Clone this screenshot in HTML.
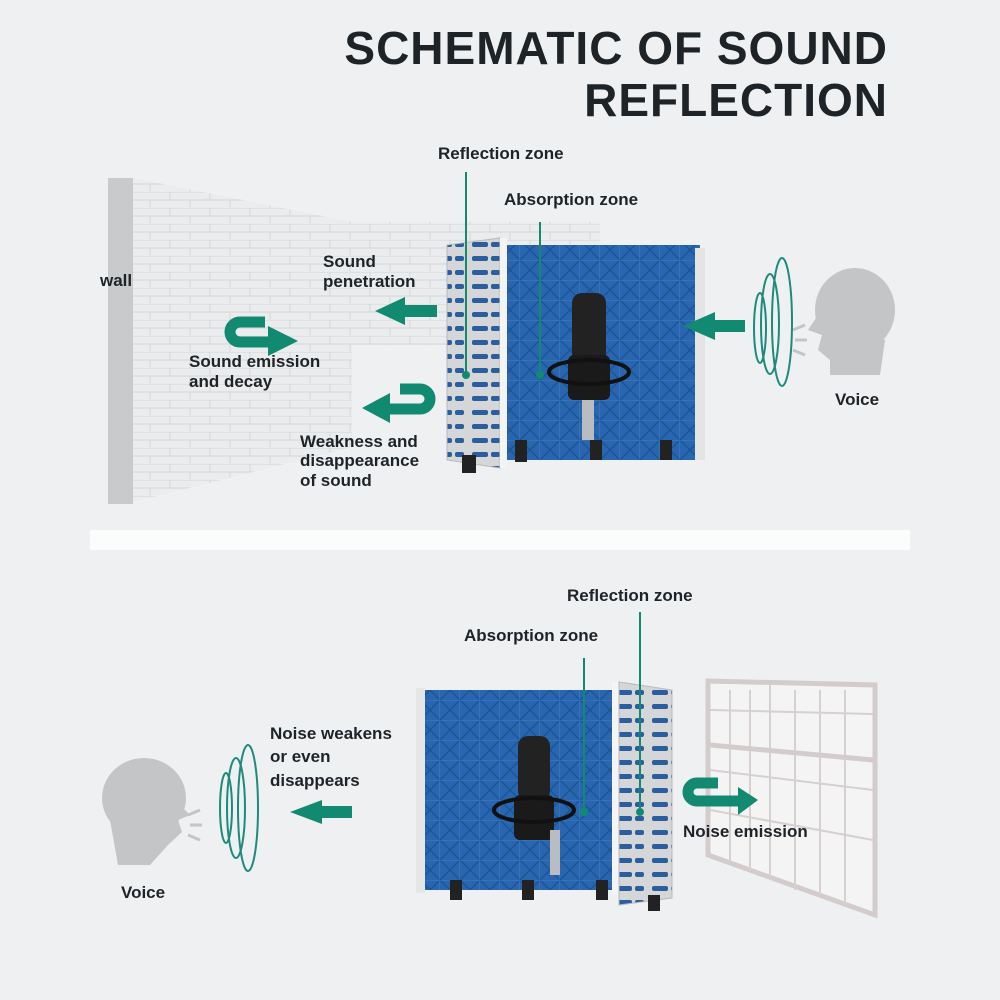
<!DOCTYPE html>
<html><head><meta charset="utf-8"><style>
html,body{margin:0;padding:0;background:#eef0f2}
svg{display:block}
text{font-family:"Liberation Sans",sans-serif;font-weight:bold;fill:#1e2328}
</style></head><body>
<svg width="1000" height="1000" viewBox="0 0 1000 1000" xmlns="http://www.w3.org/2000/svg">
<defs>
<pattern id="foam" width="20" height="20" patternUnits="userSpaceOnUse">
<rect width="20" height="20" fill="#2a66b0"/>
<path d="M0 0L10 10L20 0M0 20L10 10L20 20" stroke="#1b5599" stroke-width="1.5" fill="none"/>
<path d="M0 0H20V20" stroke="#3d7fc8" stroke-width="1" fill="none"/>
</pattern>
<pattern id="slots" width="36" height="14" patternUnits="userSpaceOnUse">
<rect width="36" height="14" fill="#d4d6d8"/>
<rect x="4" y="4" width="16" height="5" rx="2" fill="#2a5e9e"/>
<rect x="23" y="4" width="9" height="5" rx="2" fill="#2a5e9e"/>
</pattern>
<pattern id="brick" width="40" height="16" patternUnits="userSpaceOnUse">
<rect width="40" height="16" fill="#ebeced"/>
<path d="M0 0H40M0 8H40M10 0V8M30 8V16" stroke="#d8dadc" stroke-width="1.2"/>
</pattern>
</defs>
<rect width="1000" height="1000" fill="#eef0f2"/>
<rect x="90" y="530" width="820" height="20" fill="#fbfcfc"/>

<text x="888" y="64" font-size="46" text-anchor="end" letter-spacing="1">SCHEMATIC OF SOUND</text>
<text x="888" y="116" font-size="46" text-anchor="end" letter-spacing="1">REFLECTION</text>

<polygon points="352,222 600,222 600,345 352,345" fill="url(#brick)"/>
<polygon points="133,178 352,222 352,447 133,502" fill="url(#brick)"/>
<rect x="108" y="178" width="25" height="326" fill="#c9cacc"/>

<rect x="505" y="245" width="195" height="215" fill="url(#foam)"/>
<polygon points="447,245 500,238 500,468 447,460" fill="url(#slots)" stroke="#b8babc"/>
<rect x="500" y="238" width="7" height="230" fill="#f4f4f4"/>
<rect x="695" y="248" width="10" height="212" fill="#e4e4e4"/>
<rect x="572" y="293" width="34" height="70" rx="10" fill="#222"/>
<rect x="568" y="355" width="42" height="45" rx="6" fill="#1a1a1a"/>
<ellipse cx="589" cy="372" rx="40" ry="12" fill="none" stroke="#111" stroke-width="4"/>
<rect x="582" y="400" width="12" height="40" fill="#b9bcc0"/>
<rect x="462" y="455" width="14" height="18" fill="#222"/><rect x="515" y="440" width="12" height="22" fill="#222"/>
<rect x="590" y="440" width="12" height="20" fill="#222"/><rect x="660" y="440" width="12" height="20" fill="#222"/>

<text x="438" y="159" font-size="17">Reflection zone</text>
<line x1="466" y1="172" x2="466" y2="375" stroke="#128a72" stroke-width="2"/><circle cx="466" cy="375" r="4" fill="#128a72"/>
<text x="504" y="205" font-size="17">Absorption zone</text>
<line x1="540" y1="222" x2="540" y2="375" stroke="#128a72" stroke-width="2"/><circle cx="540" cy="375" r="4" fill="#128a72"/>
<text x="100" y="286" font-size="17">wall</text>
<text x="323" y="267" font-size="17">Sound</text>
<text x="323" y="287" font-size="17">penetration</text>
<text x="189" y="367" font-size="17">Sound emission</text>
<text x="189" y="387" font-size="17">and decay</text>
<text x="300" y="447" font-size="17">Weakness and</text>
<text x="300" y="466" font-size="17">disappearance</text>
<text x="300" y="486" font-size="17">of sound</text>
<text x="835" y="405" font-size="17">Voice</text>

<polygon points="437,305 405,305 405,297 375,311 405,325 405,317 437,317" fill="#128a72"/>
<polygon points="745,320 715,320 715,312 683,326 715,340 715,332 745,332" fill="#128a72"/>
<path d="M265 322 H240 a10 10 0 0 0 0 20 H270" fill="none" stroke="#128a72" stroke-width="11"/>
<polygon points="268,326 298,341 268,356" fill="#128a72"/>
<path d="M400 389 H420 a10 10 0 0 1 0 20 H385" fill="none" stroke="#128a72" stroke-width="11"/>
<polygon points="390,393 362,408 390,423" fill="#128a72"/>

<g fill="#c4c5c7">
<ellipse cx="855" cy="310" rx="40" ry="42"/>
<path d="M820 312 L808 330 L822 335 L818 350 L830 360 L830 375 L880 375 L885 340z"/>
</g>
<path d="M793 330l12 -5M795 340h12M793 350l12 5" stroke="#c4c5c7" stroke-width="3"/>
<g fill="none" stroke="#1d8a7c" stroke-width="2">
<ellipse cx="760" cy="328" rx="6" ry="35"/><ellipse cx="770" cy="324" rx="9" ry="50"/><ellipse cx="782" cy="322" rx="10" ry="64"/>
</g>

<rect x="425" y="690" width="190" height="200" fill="url(#foam)"/>
<rect x="416" y="688" width="9" height="205" fill="#e6e6e6"/>
<rect x="612" y="682" width="7" height="213" fill="#f4f4f4"/>
<polygon points="619,682 672,690 672,898 619,905" fill="url(#slots)" stroke="#b8babc"/>
<rect x="518" y="736" width="32" height="65" rx="10" fill="#222"/>
<rect x="514" y="795" width="40" height="45" rx="6" fill="#1a1a1a"/>
<ellipse cx="534" cy="810" rx="40" ry="12" fill="none" stroke="#111" stroke-width="4"/>
<rect x="550" y="830" width="10" height="45" fill="#b9bcc0"/>
<rect x="450" y="880" width="12" height="20" fill="#222"/><rect x="522" y="880" width="12" height="20" fill="#222"/>
<rect x="596" y="880" width="12" height="20" fill="#222"/><rect x="648" y="895" width="12" height="16" fill="#222"/>

<polygon points="708,681 875,685 875,915 708,855" fill="#f5f4f4" stroke="#d4cccc" stroke-width="5"/>
<g stroke="#d6d0d0" stroke-width="2" fill="none">
<line x1="770" y1="684" x2="770" y2="880"/>
<line x1="730" y1="690" x2="730" y2="860"/><line x1="750" y1="690" x2="750" y2="870"/>
<line x1="795" y1="690" x2="795" y2="890"/><line x1="820" y1="690" x2="820" y2="895"/><line x1="845" y1="690" x2="845" y2="905"/>
<line x1="710" y1="710" x2="873" y2="714"/><line x1="710" y1="770" x2="873" y2="790"/><line x1="710" y1="810" x2="873" y2="840"/>
</g>
<line x1="710" y1="745" x2="873" y2="760" stroke="#d4cccc" stroke-width="5"/>

<text x="567" y="601" font-size="17">Reflection zone</text>
<line x1="640" y1="612" x2="640" y2="812" stroke="#128a72" stroke-width="2"/><circle cx="640" cy="812" r="4" fill="#128a72"/>
<text x="464" y="641" font-size="17">Absorption zone</text>
<line x1="584" y1="658" x2="584" y2="812" stroke="#128a72" stroke-width="2"/><circle cx="584" cy="812" r="4" fill="#128a72"/>
<text x="270" y="739" font-size="17">Noise weakens</text>
<text x="270" y="762" font-size="17">or even</text>
<text x="270" y="786" font-size="17">disappears</text>
<text x="683" y="837" font-size="17">Noise emission</text>
<text x="121" y="898" font-size="17">Voice</text>

<polygon points="352,806 322,806 322,800 290,812 322,824 322,818 352,818" fill="#128a72"/>
<path d="M718 783 H697 a9 9 0 0 0 0 18 H740" fill="none" stroke="#128a72" stroke-width="11"/>
<polygon points="738,787 758,800 738,815" fill="#128a72"/>

<g fill="#c4c5c7">
<ellipse cx="144" cy="798" rx="42" ry="40"/>
<path d="M150 775 L190 815 L178 820 L182 832 L168 845 L150 865 L118 865 L110 820z"/>
</g>
<path d="M188 815l12 -5M190 825h12M188 835l12 5" stroke="#c4c5c7" stroke-width="3"/>
<g fill="none" stroke="#1d8a7c" stroke-width="2">
<ellipse cx="226" cy="808" rx="6" ry="35"/><ellipse cx="236" cy="808" rx="9" ry="50"/><ellipse cx="248" cy="808" rx="10" ry="63"/>
</g>
</svg>
</body></html>
